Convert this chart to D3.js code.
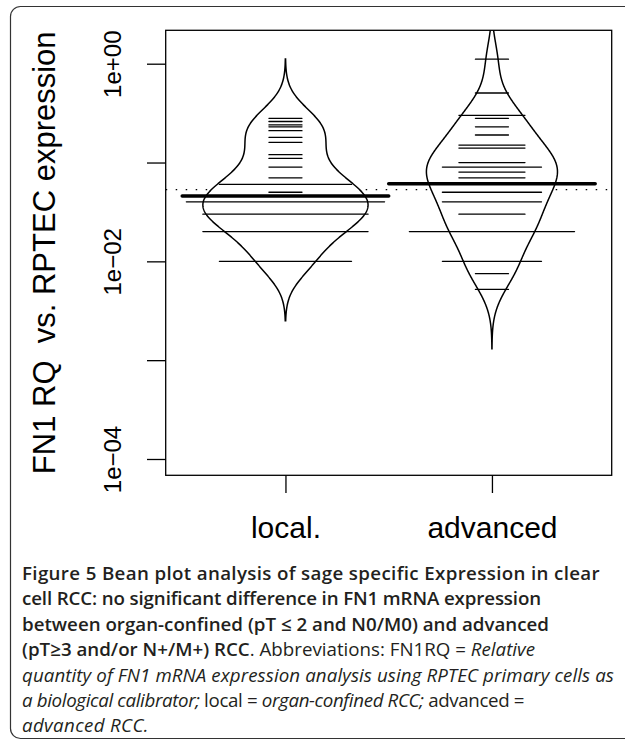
<!DOCTYPE html>
<html>
<head>
<meta charset="utf-8">
<script src="https://cdn.jsdelivr.net/npm/d3@7"></script>
<style>
  body { margin: 0; background: #fff; }
  svg text { font-family: "Liberation Sans", Arial, sans-serif; }
</style>
</head>
<body>
<div id="container"></div>
<script>
/* DATA */
const groups = ["local.", "advanced"];

// FN1 RQ per patient (repeated values = longer lines)
const localRQ = [
  0.28, 0.26, 0.24, 0.23, 0.21, 0.18, 0.16, 0.12, 0.11, 0.09, 0.07, 0.05,
  0.06, 0.06, 0.06, 0.06,
  0.04, 0.04, 0.04, 0.04, 0.04, 0.04,
  0.03, 0.03, 0.03, 0.03, 0.03,
  0.02, 0.02, 0.02, 0.02, 0.02,
  0.01, 0.01, 0.01, 0.01
];
const advancedRQ = [
  1.11, 0.505, 0.30, 0.30, 0.28, 0.23, 0.19, 0.15, 0.15, 0.14, 0.14,
  0.10, 0.10, 0.09, 0.09, 0.09, 0.08, 0.08, 0.07, 0.07,
  0.05, 0.05, 0.05, 0.04, 0.04, 0.04, 0.03, 0.03,
  0.02, 0.02, 0.02, 0.02, 0.02, 0.01, 0.01, 0.01,
  0.0075, 0.0052
];
const beanMeans = [0.0458, 0.0609];   // thick line per bean
const overallMean = 0.0532;           // dotted line

const yTicks = [1, 0.1, 0.01, 0.001, 0.0001];
const yTickLabels = ["1e+00", "", "1e\u221202", "", "1e\u221204"];

const caption = [
  [["Figure 5 Bean plot analysis of sage specific Expression in clear", "b"]],
  [["cell RCC: no significant difference in FN1 mRNA expression", "b"]],
  [["between organ-confined (pT \u2264 2 and N0/M0) and advanced", "b"]],
  [["(pT\u22653 and/or N+/M+) RCC", "b"], [". Abbreviations: FN1RQ = ", "n"], ["Relative", "i"]],
  [["quantity of FN1 mRNA expression analysis using RPTEC primary cells as", "i"]],
  [["a biological calibrator;", "i"], [" local = ", "n"], ["organ-confined RCC;", "i"], [" advanced =", "n"]],
  [["advanced RCC.", "i"]]
];
// approximate width of each caption line in the figure
const captionWidths = [593, 519, 527, 513, 592, 496, 135];

/* CONSTANTS */
const width = 625, height = 744;
const plot = {left: 165.7, right: 611.7, top: 30.3, bottom: 475.3};
const bw = 0.2;        // kernel bandwidth, log10 units
const ll = 0.16;       // bean line length per observation
const maxwidth = 0.8;

const svg = d3.select("#container")
  .append("svg")
  .attr("width", width)
  .attr("height", height);

/* SCALES */
const x = d3.scaleLinear()
  .domain([0.42, 2.58])
  .range([plot.left, plot.right]);

const y = d3.scaleLog()
  .domain([Math.pow(10, -4.165), Math.pow(10, 0.338)])
  .range([plot.bottom, plot.top]);

// outer figure frame
svg.append("rect")
  .attr("x", 10.5).attr("y", 6.5)
  .attr("width", 640).attr("height", 732)
  .attr("rx", 10)
  .attr("fill", "none")
  .attr("stroke", "#333")
  .attr("stroke-width", 1.2);

svg.append("clipPath").attr("id", "plotclip")
  .append("rect")
  .attr("x", plot.left).attr("y", plot.top)
  .attr("width", plot.right - plot.left).attr("height", plot.bottom - plot.top);

// overall average (dotted)
svg.append("line")
  .attr("x1", plot.left).attr("x2", plot.right)
  .attr("y1", y(overallMean)).attr("y2", y(overallMean))
  .attr("stroke", "#000")
  .attr("stroke-width", 1.4)
  .attr("stroke-dasharray", "1.5,8.5");

/* BEANS */
function density(vals) {
  const lv = vals.map(Math.log10);
  const lo = d3.min(lv) - 3 * bw, hi = d3.max(lv) + 3 * bw;
  return d3.range(512).map(i => {
    const t = lo + (hi - lo) * i / 511;
    const d = d3.mean(lv, v => Math.exp(-0.5 * ((t - v) / bw) ** 2)) / (bw * Math.sqrt(2 * Math.PI));
    return [t, d];
  });
}

const beans = [localRQ, advancedRQ].map((vals, i) => ({
  pos: i + 1,
  vals: vals,
  dens: density(vals),
  counts: d3.rollups(vals, v => v.length, d => d)
}));
const maxDens = d3.max(beans, b => d3.max(b.dens, d => d[1]));

const line = d3.line();
const beanG = svg.append("g").attr("clip-path", "url(#plotclip)");

beans.forEach(b => {
  const w = d => (d[1] / maxDens) * maxwidth / 2;
  const left = b.dens.map(d => [x(b.pos - w(d)), y(Math.pow(10, d[0]))]);
  const right = b.dens.slice().reverse().map(d => [x(b.pos + w(d)), y(Math.pow(10, d[0]))]);
  beanG.append("path")
    .attr("d", line(left.concat(right)) + "Z")
    .attr("fill", "#fff")
    .attr("stroke", "#000")
    .attr("stroke-width", 1.5);
});

beans.forEach(b => {
  beanG.selectAll(null)
    .data(b.counts)
    .join("line")
    .attr("x1", d => x(b.pos - ll * d[1] / 2))
    .attr("x2", d => x(b.pos + ll * d[1] / 2))
    .attr("y1", d => y(d[0]))
    .attr("y2", d => y(d[0]))
    .attr("stroke", "#000")
    .attr("stroke-width", 1.3)
    .attr("stroke-linecap", "round");

  beanG.append("line")
    .attr("x1", x(b.pos - 0.5)).attr("x2", x(b.pos + 0.5))
    .attr("y1", y(beanMeans[b.pos - 1])).attr("y2", y(beanMeans[b.pos - 1]))
    .attr("stroke", "#000")
    .attr("stroke-width", 3.5)
    .attr("stroke-linecap", "round");
});

/* AXES */
svg.append("rect")
  .attr("x", plot.left).attr("y", plot.top)
  .attr("width", plot.right - plot.left).attr("height", plot.bottom - plot.top)
  .attr("fill", "none")
  .attr("stroke", "#000")
  .attr("stroke-width", 1.3);

const yAxis = d3.axisLeft(y)
  .tickValues(yTicks)
  .tickSize(18.7)
  .tickFormat((d, i) => yTickLabels[i]);

const gy = svg.append("g")
  .attr("transform", `translate(${plot.left},0)`)
  .call(yAxis);
gy.select(".domain").remove();
gy.selectAll(".tick line").attr("stroke", "#000").attr("stroke-width", 1.3);
gy.selectAll(".tick text")
  .attr("x", null).attr("dy", null)
  .attr("text-anchor", "middle")
  .attr("transform", "translate(-44.7,0) rotate(-90)")
  .attr("fill", "#000")
  .style("font-size", "24px")
  .style("font-family", "Liberation Sans, Arial, sans-serif");

const xAxis = d3.axisBottom(x)
  .tickValues([1, 2])
  .tickSize(17.7)
  .tickFormat((d, i) => groups[i]);

const gx = svg.append("g")
  .attr("transform", `translate(0,${plot.bottom})`)
  .call(xAxis);
gx.select(".domain").remove();
gx.selectAll(".tick line").attr("stroke", "#000").attr("stroke-width", 1.3);
gx.selectAll(".tick text")
  .attr("y", 62.7).attr("dy", null)
  .attr("fill", "#000")
  .style("font-size", "30px")
  .style("font-family", "Liberation Sans, Arial, sans-serif");

// y title
svg.append("text")
  .attr("transform", `translate(55,${(plot.top + plot.bottom) / 2}) rotate(-90)`)
  .attr("text-anchor", "middle")
  .style("font-size", "31px")
  .style("white-space", "pre")
  .text("FN1 RQ  vs. RPTEC expression");

/* CAPTION */
const capLines = svg.append("g")
  .selectAll("text")
  .data(caption)
  .join("text")
  .attr("x", 22)
  .attr("y", (d, i) => 580 + i * 25.4)
  .attr("fill", "#231f20")
  .style("font-family", "'Open Sans', 'Noto Sans', sans-serif")
  .style("white-space", "pre")
  .style("font-size", "18px");

capLines.selectAll("tspan")
  .data(d => d)
  .join("tspan")
  .text(d => d[0])
  .attr("font-weight", d => d[1] === "b" ? 600 : 400)
  .attr("font-style", d => d[1] === "i" ? "italic" : "normal");

// one font size for all lines, then nudge letter spacing per line (small amounts only)
const ratios = capLines.nodes().map((n, i) => captionWidths[i] / n.getComputedTextLength());
const fs = 18 * d3.median(ratios);
capLines.style("font-size", fs + "px");
capLines.each(function(d, i) {
  const nat = this.getComputedTextLength();
  const chars = d3.sum(d, s => s[0].length);
  const ls = Math.max(-0.35, Math.min(0.35, (captionWidths[i] - nat) / chars));
  d3.select(this).style("letter-spacing", ls + "px");
});
</script>
</body>
</html>
